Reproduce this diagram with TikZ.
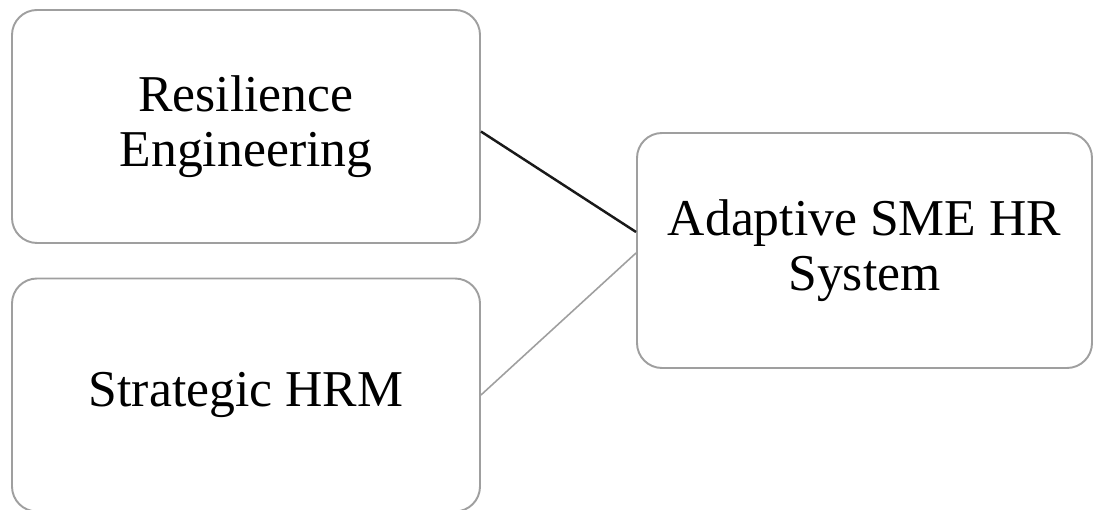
\documentclass[tikz,border=0pt]{standalone}
\usepackage{fontspec}
\setmainfont{Liberation Serif}
\usetikzlibrary{positioning}

\begin{document}
\begin{tikzpicture}[
    block/.style={rectangle, draw=gray!75, line width=1.1pt, rounded corners=0.5cm, minimum width=9.36cm, minimum height=4.66cm, align=center, font=\fontsize{29.4}{31}\selectfont},
    link/.style={line width=1.1pt}
]
    \useasboundingbox (0,0) rectangle (21.88,-10.2);

    \node[block] (resil) at (4.92, -2.53) {Resilience\\Engineering};
    \node[block] (shrm) at (4.92, -7.9) {Strategic HRM};
    \node[block, minimum width=9.1cm, minimum height=4.7cm] (sys) at (17.29, -5.01) {Adaptive SME HR\\System};

    % Links
    \draw[link, black!90, line width=1.4pt] ([yshift=-0.1cm]resil.east) -- ([yshift=0.37cm]sys.west);
    \draw[link, gray!75, line width=0.9pt] (shrm.east) -- ([yshift=-0.05cm]sys.west);
\end{tikzpicture}
\end{document}
